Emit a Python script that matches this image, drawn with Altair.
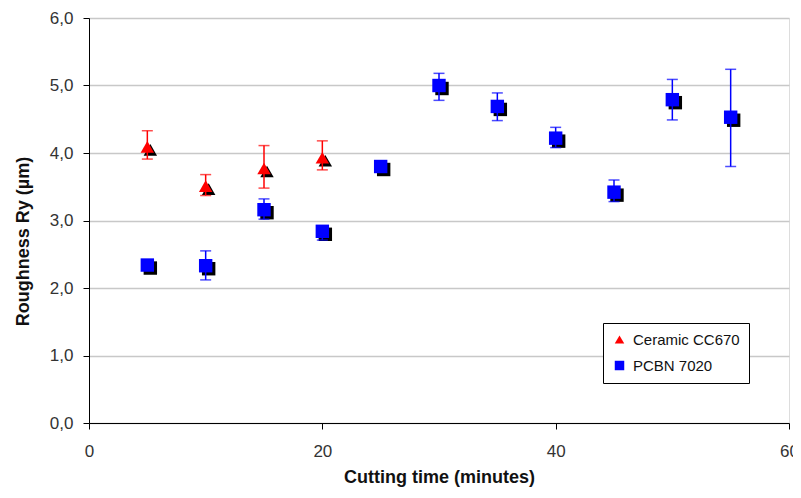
import altair as alt
import pandas as pd

# Ceramic CC670
cer_time = [5, 10, 15, 20]
cer_val = [4.09, 3.51, 3.77, 3.93]
cer_lo = [3.91, 3.37, 3.48, 3.75]
cer_hi = [4.33, 3.68, 4.11, 4.18]

# PCBN 7020
pcbn_time = [5, 10, 15, 20, 25, 30, 35, 40, 45, 50, 55]
pcbn_val = [2.34, 2.33, 3.16, 2.84, 3.80, 5.00, 4.69, 4.22, 3.42, 4.79, 4.53]
pcbn_lo = [None, 2.12, 3.02, 2.71, None, 4.78, 4.48, 4.08, 3.28, 4.49, 3.80]
pcbn_hi = [None, 2.55, 3.32, 2.92, None, 5.18, 4.89, 4.38, 3.60, 5.09, 5.24]

series_names = ["Ceramic CC670", "PCBN 7020"]
series_colors = ["#ff0000", "#0000ff"]
series_shapes = ["triangle-up", "square"]

rows = []
for t, v, lo, hi in zip(cer_time, cer_val, cer_lo, cer_hi):
    rows.append(dict(series=series_names[0], time=t, value=v, lo=lo, hi=hi))
for t, v, lo, hi in zip(pcbn_time, pcbn_val, pcbn_lo, pcbn_hi):
    rows.append(dict(series=series_names[1], time=t, value=v, lo=lo, hi=hi))
df = pd.DataFrame(rows)

FONT = "Liberation Sans"

xs = alt.Scale(domain=[0, 60], nice=False, zero=False)
ys = alt.Scale(domain=[0, 6], nice=False)

x_enc = alt.X("time:Q", scale=xs, axis=alt.Axis(
    values=[0, 20, 40, 60], grid=False, title="Cutting time (minutes)",
    labelFont=FONT, labelFontSize=17, labelColor="#333333", labelPadding=14,
    titleFont=FONT, titleFontSize=18, titleFontWeight="bold", titleColor="#111111",
    titlePadding=9, domainColor="black", tickColor="black", tickSize=6,
    labelFlush=False))
y_enc = alt.Y("value:Q", scale=ys, axis=alt.Axis(
    values=[0, 1, 2, 3, 4, 5, 6], grid=True, gridColor="#c8c8c8", gridWidth=1.5,
    title="Roughness Ry  (µm)",
    labelExpr="replace(format(datum.value, '.1f'), '.', ',')",
    labelFont=FONT, labelFontSize=17, labelColor="#333333", labelPadding=10,
    titleFont=FONT, titleFontSize=18, titleFontWeight="bold", titleColor="#111111",
    titleX=-66, titleY=223, titleBaseline="middle", titleAlign="center", titleAngle=270,
    domainColor="black", tickColor="black", tickSize=6))

base = alt.Chart(df)
layers = []

# shadows
for name, shape in zip(series_names, series_shapes):
    layers.append(
        base.transform_filter(alt.datum.series == name)
        .mark_point(filled=True, opacity=1, size=180, shape=shape, color="black",
                    xOffset=3, yOffset=3)
        .encode(x=x_enc, y=y_enc)
    )

# error bars
for name, col in zip(series_names, series_colors):
    eb = base.transform_filter(alt.datum.series == name).transform_filter("isValid(datum.lo)")
    layers.append(eb.mark_rule(color=col, strokeWidth=1.5).encode(
        x="time:Q", y="lo:Q", y2="hi:Q"))
    layers.append(eb.mark_tick(color=col, orient="horizontal", size=11, thickness=1.5).encode(
        x="time:Q", y="lo:Q"))
    layers.append(eb.mark_tick(color=col, orient="horizontal", size=11, thickness=1.5).encode(
        x="time:Q", y="hi:Q"))

# main markers
layers.append(
    base.mark_point(filled=True, opacity=1, size=180).encode(
        x=x_enc, y=y_enc,
        color=alt.Color("series:N", scale=alt.Scale(domain=series_names, range=series_colors),
                        legend=alt.Legend(title=None, orient="none", legendX=514, legendY=305,
                                          strokeColor="black", fillColor="white", padding=9,
                                          labelFont=FONT, labelFontSize=15, labelColor="#111111",
                                          symbolSize=90, rowPadding=10, labelOffset=6)),
        shape=alt.Shape("series:N", scale=alt.Scale(domain=series_names, range=series_shapes)),
    )
)

chart = alt.layer(*layers).properties(
    width=700, height=405,
    autosize=alt.AutoSizeParams(type="none"),
    padding={"left": 81, "top": 10, "right": 4, "bottom": 67},
).configure_view(stroke=None).configure(background="white")

chart.save("out.html", embed_options={"renderer": "svg", "actions": False})
